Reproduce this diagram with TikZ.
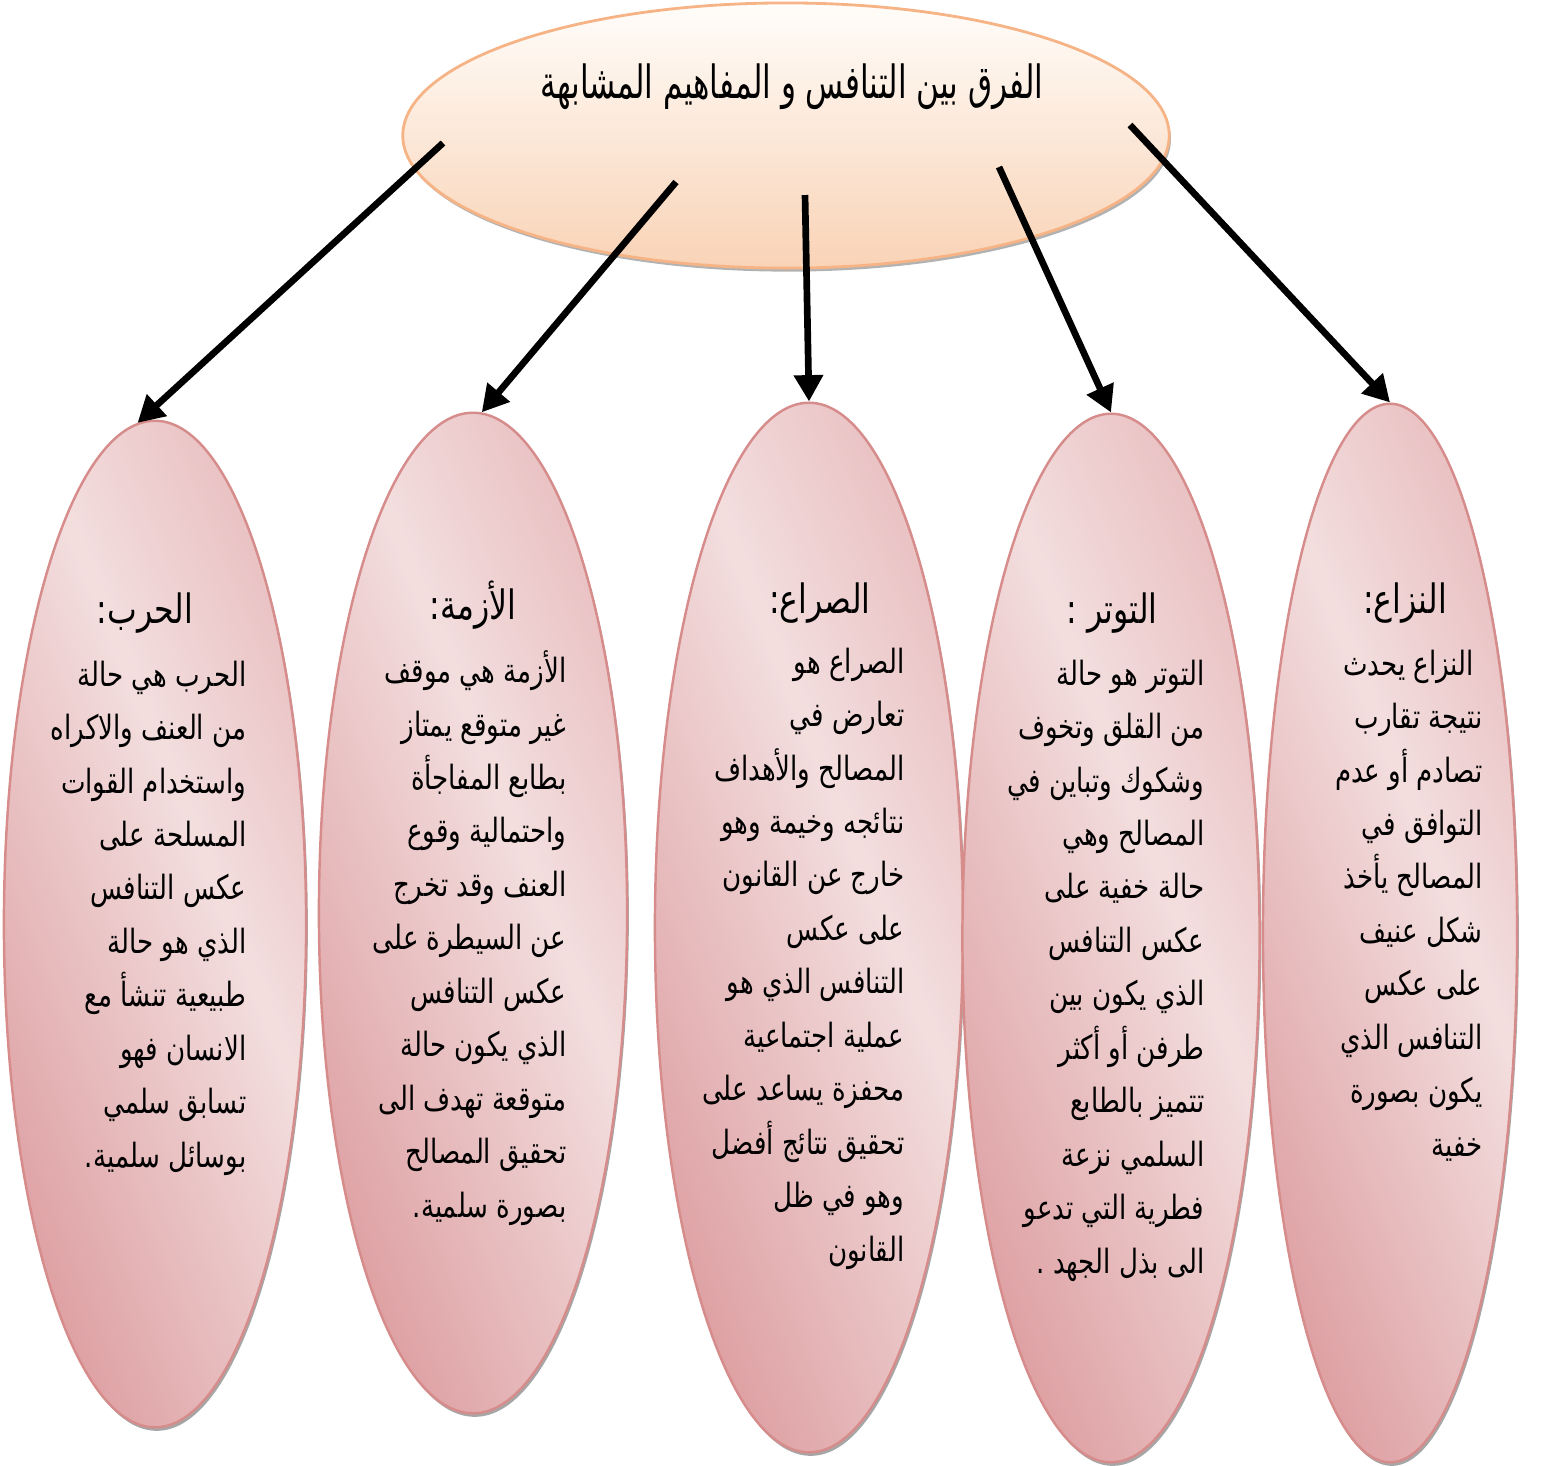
\documentclass[tikz,border=0pt]{standalone}
\usepackage{fontspec}
\newfontfamily\arabicfont[Script=Arabic, FakeStretch=0.78]{DejaVu Sans}
\newfontfamily\titlefont[Script=Arabic, FakeStretch=0.68]{DejaVu Sans}
\TeXXeTstate=1
\usetikzlibrary{shapes.geometric,shadows,arrows.meta}
\definecolor{pkd}{RGB}{221,158,161}
\definecolor{pkl}{RGB}{243,222,222}
\definecolor{pkm}{RGB}{231,186,188}
\definecolor{pkb}{RGB}{215,140,140}
\definecolor{petop}{RGB}{255,253,250}
\definecolor{pebot}{RGB}{249,211,182}
\definecolor{peb}{RGB}{246,180,134}
\pgfdeclarehorizontalshading{pinkgrad}{100bp}{color(0bp)=(pkd); color(25bp)=(pkd); color(57bp)=(pkl); color(78bp)=(pkm); color(100bp)=(pkd)}
\begin{document}
\begin{tikzpicture}[x=0.01cm,y=-0.01cm,
  subell/.style={ellipse, draw=pkb, line width=0.7pt, shading=pinkgrad, shading angle=22, inner sep=0pt,
    drop shadow={shadow xshift=0.5pt, shadow yshift=-1pt, opacity=0.35, fill=black}},
  topell/.style={ellipse, draw=peb, line width=0.8pt, top color=petop, bottom color=pebot, inner sep=0pt,
    drop shadow={shadow xshift=0.5pt, shadow yshift=-1pt, opacity=0.3, fill=black}},
  arr/.style={line width=1.9pt, -{Triangle[length=7.5pt,width=8pt]}},
  body/.style={font=\arabicfont\fontsize{9.5}{15.2}\selectfont, align=right, anchor=north east, inner sep=0pt},
  head/.style={font=\arabicfont\fontsize{11.5}{14}\selectfont, inner sep=0pt},
  ttl/.style={font=\titlefont\fontsize{13}{16}\selectfont, inner sep=0pt}]
\useasboundingbox (0,0) rectangle (1543,1465);

% lower ellipses
\node[subell, minimum width=3.02cm, minimum height=10.06cm] (harb) at (155,924) {};
\node[subell, minimum width=3.08cm, minimum height=10.00cm] (azma) at (473,913) {};
\node[subell, minimum width=3.08cm, minimum height=10.49cm] (siraa) at (809,927.5) {};
\node[subell, minimum width=2.97cm, minimum height=10.48cm] (tawattur) at (1111,938) {};
\node[subell, minimum width=2.54cm, minimum height=10.58cm] (nizaa) at (1390,933) {};

% top ellipse
\node[topell, minimum width=7.66cm, minimum height=2.65cm] (top) at (786,135.5) {};
\node[ttl] (title) at (792,87) {\beginR الفرق بين التنافس و المفاهيم المشابهة\endR};

% headings
\node[head] (hnizaa) at (1405,603) {\beginR النزاع:\endR};
\node[head] (htawattur) at (1112,613) {\beginR التوتر :\endR};
\node[head] (hsiraa) at (820,603) {\beginR الصراع:\endR};
\node[head] (hazma) at (473,605) {\beginR الأزمة:\endR};
\node[head] (hharb) at (145,613) {\beginR الحرب:\endR};

% bodies
\node[body] (bnizaa) at (1483,649) {%
\beginR\ النزاع يحدث\endR\\
\beginR نتيجة تقارب\endR\\
\beginR تصادم أو عدم\endR\\
\beginR التوافق في\endR\\
\beginR المصالح يأخذ\endR\\
\beginR شكل عنيف\endR\\
\beginR على عكس\endR\\
\beginR التنافس الذي\endR\\
\beginR يكون بصورة\endR\\
\beginR خفية\endR};

\node[body] (btawattur) at (1205,659) {%
\beginR التوتر هو حالة\endR\\
\beginR من القلق وتخوف\endR\\
\beginR وشكوك وتباين في\endR\\
\beginR المصالح وهي\endR\\
\beginR حالة خفية على\endR\\
\beginR عكس التنافس\endR\\
\beginR الذي يكون بين\endR\\
\beginR طرفن أو أكثر\endR\\
\beginR تتميز بالطابع\endR\\
\beginR السلمي نزعة\endR\\
\beginR فطرية التي تدعو\endR\\
\beginR الى بذل الجهد .\endR};

\node[body] (bsiraa) at (905,647) {%
\beginR الصراع هو\endR\\
\beginR تعارض في\endR\\
\beginR المصالح والأهداف\endR\\
\beginR نتائجه وخيمة وهو\endR\\
\beginR خارج عن القانون\endR\\
\beginR على عكس\endR\\
\beginR التنافس الذي هو\endR\\
\beginR عملية اجتماعية\endR\\
\beginR محفزة يساعد على\endR\\
\beginR تحقيق نتائج أفضل\endR\\
\beginR وهو في ظل\endR\\
\beginR القانون\endR};

\node[body] (bazma) at (567,650) {%
\beginR الأزمة هي موقف\endR\\
\beginR غير متوقع يمتاز\endR\\
\beginR بطابع المفاجأة\endR\\
\beginR واحتمالية وقوع\endR\\
\beginR العنف وقد تخرج\endR\\
\beginR عن السيطرة على\endR\\
\beginR عكس التنافس\endR\\
\beginR الذي يكون حالة\endR\\
\beginR متوقعة تهدف الى\endR\\
\beginR تحقيق المصالح\endR\\
\beginR بصورة سلمية.\endR};

\node[body] (bharb) at (247,660) {%
\beginR الحرب هي حالة\endR\\
\beginR من العنف والاكراه\endR\\
\beginR واستخدام القوات\endR\\
\beginR المسلحة على\endR\\
\beginR عكس التنافس\endR\\
\beginR الذي هو حالة\endR\\
\beginR طبيعية تنشأ مع\endR\\
\beginR الانسان فهو\endR\\
\beginR تسابق سلمي\endR\\
\beginR بوسائل سلمية.\endR};

% arrows
\coordinate (s1) at (443,143);
\coordinate (s2) at (676,182);
\coordinate (s3) at (805,195);
\coordinate (s4) at (999,167);
\coordinate (s5) at (1130,125);
\draw[arr] (s1) -- (harb.92);
\draw[arr] (s2) -- (azma.89);
\draw[arr] (s3) -- (siraa.north);
\draw[arr] (s4) -- (tawattur.north);
\draw[arr] (s5) -- (nizaa.north);
\end{tikzpicture}
\end{document}
